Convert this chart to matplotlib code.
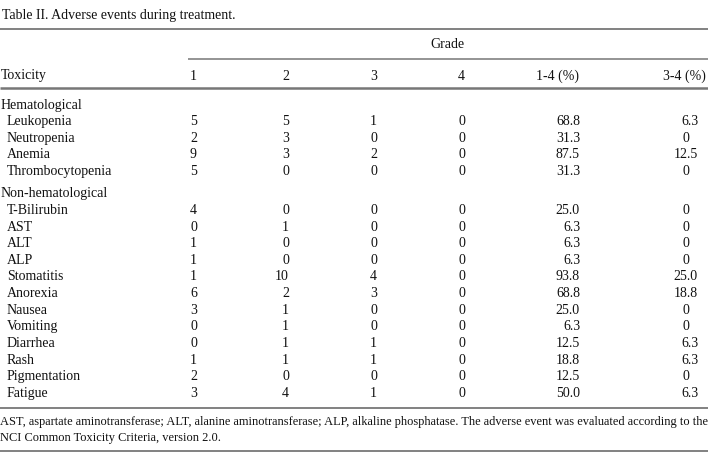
import matplotlib
matplotlib.use("Agg")
import matplotlib.pyplot as plt

# table data
title = "Table II. Adverse events during treatment."
groups = ["Hematological", "Non-hematological"]
hem_names = ["Leukopenia", "Neutropenia", "Anemia", "Thrombocytopenia"]
hem_g1 = [5, 2, 9, 5]
hem_g2 = [5, 3, 3, 0]
hem_g3 = [1, 0, 2, 0]
hem_g4 = [0, 0, 0, 0]
hem_p14 = [68.8, 31.3, 87.5, 31.3]
hem_p34 = [6.3, 0, 12.5, 0]

non_names = ["T-Bilirubin", "AST", "ALT", "ALP", "Stomatitis", "Anorexia",
             "Nausea", "Vomiting", "Diarrhea", "Rash", "Pigmentation", "Fatigue"]
non_g1 = [4, 0, 1, 1, 1, 6, 3, 0, 0, 1, 2, 3]
non_g2 = [0, 1, 0, 0, 10, 2, 1, 1, 1, 1, 0, 4]
non_g3 = [0, 0, 0, 0, 4, 3, 0, 0, 1, 1, 0, 1]
non_g4 = [0, 0, 0, 0, 0, 0, 0, 0, 0, 0, 0, 0]
non_p14 = [25.0, 6.3, 6.3, 6.3, 93.8, 68.8, 25.0, 6.3, 12.5, 18.8, 12.5, 50.0]
non_p34 = [0, 0, 0, 0, 25.0, 18.8, 0, 0, 6.3, 6.3, 0, 6.3]

headers = ["1", "2", "3", "4", "1-4 (%)", "3-4 (%)"]
footnote = ["AST, aspartate aminotransferase; ALT, alanine aminotransferase; ALP, alkaline phosphatase. The adverse event was evaluated according to the",
            "NCI Common Toxicity Criteria, version 2.0."]

W, H = 708, 466
fig = plt.figure(figsize=(W / 100, H / 100), dpi=100)
ax = fig.add_axes([0, 0, 1, 1])
ax.set_xlim(0, W)
ax.set_ylim(H, 0)
ax.axis("off")

font = dict(family="Liberation Serif", fontsize=10, color="#111111")
off = 4.5  # baseline below row centre
col_x = [197, 289, 377, 465, 580, 698]


def txt(x, y, s, ha="left", **kw):
    return ax.text(x, y + off, s, ha=ha, va="baseline", **{**font, **kw})


def fmt(v):
    return "0" if v == 0 else f"{v:.1f}"


def hline(y, x0=0, x1=W, lw=1.3):
    ax.plot([x0, x1], [y, y], color="#777777", lw=lw, solid_capstyle="butt")


txt(2, 15, title)
hline(29)
txt(447, 44, "Grade", ha="center")
hline(59, 188, W, lw=1.1)
txt(1, 75, "Toxicity")
for i, h in enumerate(headers[:4]):
    txt(col_x[i], 75, h, ha="right")
txt(558, 75, headers[4], ha="center")
txt(706, 75, headers[5], ha="right")
hline(88, lw=1.8)


def draw_block(y0, step, group, names, g1, g2, g3, g4, p14, p34):
    txt(1, y0, group)
    for k, name in enumerate(names):
        y = y0 + step * (k + 1)
        txt(7, y, name)
        for c, v in enumerate([g1[k], g2[k], g3[k], g4[k]]):
            txt(col_x[c], y, str(v), ha="right")
        txt(col_x[4], y, fmt(p14[k]), ha="right")
        if p34[k] == 0:
            txt(686, y, "0", ha="center")
        else:
            txt(col_x[5], y, fmt(p34[k]), ha="right")


draw_block(104, 16.6, groups[0], hem_names, hem_g1, hem_g2, hem_g3, hem_g4, hem_p14, hem_p34)
draw_block(193, 16.6, groups[1], non_names, non_g1, non_g2, non_g3, non_g4, non_p14, non_p34)

hline(408)
# shrink the long footnote line so it fits the width
fn = txt(0, 421, footnote[0], fontsize=9.2)
r = fig.canvas.get_renderer()
wpx = fn.get_window_extent(r).width
fs = 9.2 * 704 / wpx
fn.set_fontsize(fs)
txt(0, 437, footnote[1], fontsize=fs)
hline(451)

fig.savefig("out.png", dpi=100)
